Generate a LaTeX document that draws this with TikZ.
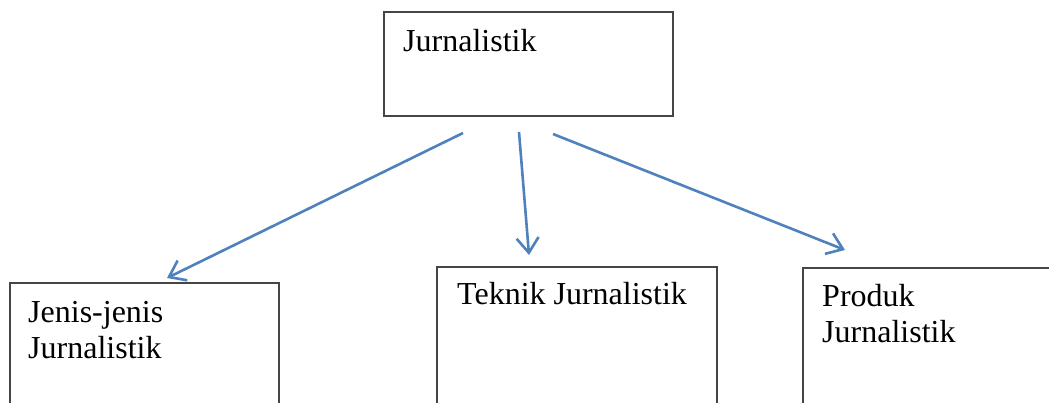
\documentclass[tikz,border=0pt]{standalone}
\usepackage{fontspec}
\setmainfont{Liberation Serif}
\usetikzlibrary{arrows.meta}
\definecolor{arrowblue}{HTML}{4F81BD}
\definecolor{boxgray}{HTML}{454545}
\begin{document}
\begin{tikzpicture}[x=1pt,y=-1pt,
  box/.style={draw=boxgray,line width=1.8pt,fill=white,minimum width=#1,anchor=north west,inner sep=0pt},
  lbl/.style={anchor=base west,inner sep=0pt,font=\fontsize{32}{36}\selectfont},
  conn/.style={draw=arrowblue,line width=2.6pt,-{Straight Barb[length=15pt,width=22pt]}}]
\useasboundingbox (0,0) rectangle (1049,403);
\clip (0,0) rectangle (1049,403);
\fill[white] (0,0) rectangle (1049,403);
% boxes
\node[box=289pt,minimum height=104pt] (top) at (383,11) {};
\node[box=269pt,minimum height=160pt] (left) at (9,282) {};
\node[box=280pt,minimum height=160pt] (mid) at (436,266) {};
\node[box=260pt,minimum height=160pt] (right) at (802,267) {};
% labels
\node[lbl] (ttop) at (403,52) {Jurnalistik};
\node[lbl] (tleft1) at (28,322) {Jenis-jenis};
\node[lbl] (tleft2) at (28,358) {Jurnalistik};
\node[lbl] (tmid) at (457,305) {Teknik Jurnalistik};
\node[lbl] (tright1) at (822,306) {Produk};
\node[lbl] (tright2) at (822,342) {Jurnalistik};
% connector ends
\coordinate (s1) at (463,133);
\coordinate (e1) at (167,278);
\coordinate (s2) at (519,132);
\coordinate (e2) at (529,255);
\coordinate (s3) at (553,134);
\coordinate (e3) at (845,250);
\draw[conn] (s1) -- (e1);
\draw[conn] (s2) -- (e2);
\draw[conn] (s3) -- (e3);
\end{tikzpicture}
\end{document}
